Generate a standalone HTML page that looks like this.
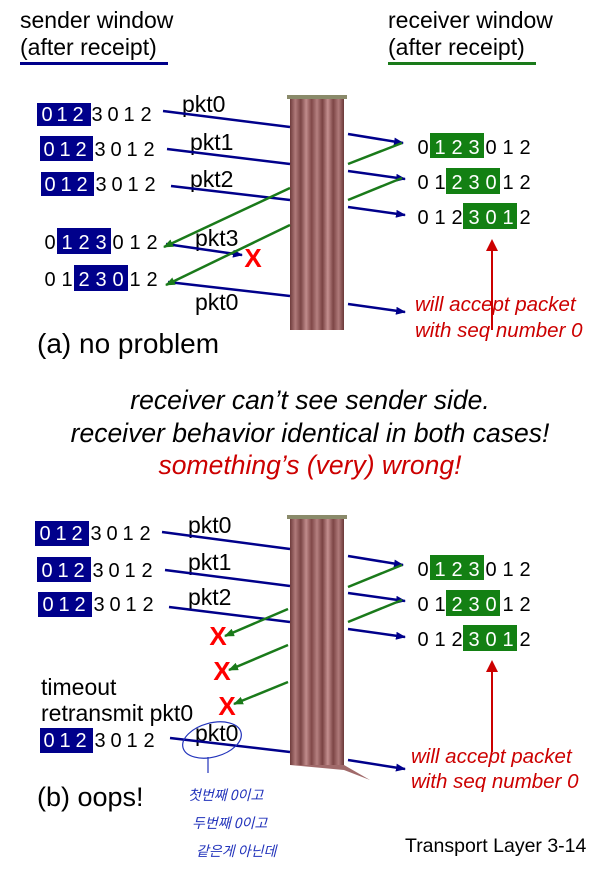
<!DOCTYPE html>
<html><head><meta charset="utf-8"><style>
html,body{margin:0;padding:0;background:#fff;}
svg{display:block;font-family:"Liberation Sans","Noto Sans CJK KR",sans-serif;}
</style></head><body>
<svg width="603" height="874" viewBox="0 0 603 874" xmlns="http://www.w3.org/2000/svg">
<defs>
<marker id="ab" markerWidth="10" markerHeight="8" refX="9" refY="4" orient="auto" markerUnits="userSpaceOnUse"><path d="M0,0 L10,4 L0,8 z" fill="#00008b"/></marker>
<marker id="ag" markerWidth="10" markerHeight="8" refX="9" refY="4" orient="auto" markerUnits="userSpaceOnUse"><path d="M0,0 L10,4 L0,8 z" fill="#1a7a1a"/></marker>
<marker id="ar" markerWidth="12" markerHeight="12" refX="10" refY="6" orient="auto" markerUnits="userSpaceOnUse"><path d="M0,0 L12,6 L0,12 z" fill="#cc0000"/></marker>
<linearGradient id="cur" x1="0" x2="1" y1="0" y2="0">
<stop offset="0" stop-color="#6e3b3b"/><stop offset="0.1" stop-color="#b07b7b"/><stop offset="0.2" stop-color="#7a4545"/><stop offset="0.3" stop-color="#c08b8b"/><stop offset="0.4" stop-color="#804848"/><stop offset="0.5" stop-color="#b58080"/><stop offset="0.6" stop-color="#7a4343"/><stop offset="0.7" stop-color="#c48f8f"/><stop offset="0.8" stop-color="#7d4646"/><stop offset="0.9" stop-color="#b07a7a"/><stop offset="1" stop-color="#6a3838"/>
</linearGradient>
</defs>

<!-- headers -->
<text x="20" y="28" font-size="23">sender window</text>
<text x="20" y="55" font-size="23">(after receipt)</text>
<rect x="20" y="62" width="148" height="3" fill="#00008b"/>
<text x="388" y="28" font-size="23">receiver window</text>
<text x="388" y="55" font-size="23">(after receipt)</text>
<rect x="388" y="62" width="148" height="3" fill="#1a7a1a"/>

<!-- curtains -->
<rect x="290" y="97" width="54" height="233" fill="url(#cur)"/>
<rect x="287" y="95" width="60" height="4" fill="#8a8a6a"/>
<rect x="290" y="517" width="54" height="248" fill="url(#cur)"/>
<path d="M290,765 L344,765 L370,780 L344,770 Z" fill="#a06a6a"/>
<rect x="287" y="515" width="60" height="4" fill="#8a8a6a"/>

<g font-size="20">
<rect x="37" y="103" width="54" height="23" fill="#00008b"/>
<text y="121" text-anchor="middle"><tspan x="47" fill="#fff">0</tspan><tspan x="62" fill="#fff">1</tspan><tspan x="78" fill="#fff">2</tspan><tspan x="97">3</tspan><tspan x="113">0</tspan><tspan x="129">1</tspan><tspan x="146">2</tspan></text>
<rect x="40" y="136" width="53" height="25" fill="#00008b"/>
<text y="156" text-anchor="middle"><tspan x="49" fill="#fff">0</tspan><tspan x="65" fill="#fff">1</tspan><tspan x="81" fill="#fff">2</tspan><tspan x="100">3</tspan><tspan x="116">0</tspan><tspan x="132">1</tspan><tspan x="149">2</tspan></text>
<rect x="41" y="172" width="53" height="24" fill="#00008b"/>
<text y="191" text-anchor="middle"><tspan x="50" fill="#fff">0</tspan><tspan x="66" fill="#fff">1</tspan><tspan x="82" fill="#fff">2</tspan><tspan x="101">3</tspan><tspan x="117">0</tspan><tspan x="133">1</tspan><tspan x="150">2</tspan></text>
<rect x="57" y="228" width="54" height="26" fill="#00008b"/>
<text y="249" text-anchor="middle"><tspan x="50">0</tspan><tspan x="67" fill="#fff">1</tspan><tspan x="84" fill="#fff">2</tspan><tspan x="101" fill="#fff">3</tspan><tspan x="118">0</tspan><tspan x="135">1</tspan><tspan x="152">2</tspan></text>
<rect x="74" y="265" width="54" height="26" fill="#00008b"/>
<text y="286" text-anchor="middle"><tspan x="50">0</tspan><tspan x="67">1</tspan><tspan x="84" fill="#fff">2</tspan><tspan x="101" fill="#fff">3</tspan><tspan x="118" fill="#fff">0</tspan><tspan x="135">1</tspan><tspan x="152">2</tspan></text>

<rect x="430" y="133" width="54" height="25" fill="#138013"/>
<text y="154" text-anchor="middle"><tspan x="423">0</tspan><tspan x="440" fill="#fff">1</tspan><tspan x="457" fill="#fff">2</tspan><tspan x="474" fill="#fff">3</tspan><tspan x="491">0</tspan><tspan x="508">1</tspan><tspan x="525">2</tspan></text>
<rect x="446" y="168" width="54" height="26" fill="#138013"/>
<text y="189" text-anchor="middle"><tspan x="423">0</tspan><tspan x="440">1</tspan><tspan x="457" fill="#fff">2</tspan><tspan x="474" fill="#fff">3</tspan><tspan x="491" fill="#fff">0</tspan><tspan x="508">1</tspan><tspan x="525">2</tspan></text>
<rect x="463" y="203" width="54" height="26" fill="#138013"/>
<text y="224" text-anchor="middle"><tspan x="423">0</tspan><tspan x="440">1</tspan><tspan x="457">2</tspan><tspan x="474" fill="#fff">3</tspan><tspan x="491" fill="#fff">0</tspan><tspan x="508" fill="#fff">1</tspan><tspan x="525">2</tspan></text>

<rect x="35" y="521" width="54" height="25" fill="#00008b"/>
<text y="540" text-anchor="middle"><tspan x="45" fill="#fff">0</tspan><tspan x="61" fill="#fff">1</tspan><tspan x="77" fill="#fff">2</tspan><tspan x="96">3</tspan><tspan x="112">0</tspan><tspan x="128">1</tspan><tspan x="145">2</tspan></text>
<rect x="37" y="557" width="54" height="25" fill="#00008b"/>
<text y="577" text-anchor="middle"><tspan x="47" fill="#fff">0</tspan><tspan x="63" fill="#fff">1</tspan><tspan x="79" fill="#fff">2</tspan><tspan x="98">3</tspan><tspan x="114">0</tspan><tspan x="130">1</tspan><tspan x="147">2</tspan></text>
<rect x="38" y="592" width="54" height="25" fill="#00008b"/>
<text y="611" text-anchor="middle"><tspan x="48" fill="#fff">0</tspan><tspan x="64" fill="#fff">1</tspan><tspan x="80" fill="#fff">2</tspan><tspan x="99">3</tspan><tspan x="115">0</tspan><tspan x="131">1</tspan><tspan x="148">2</tspan></text>
<rect x="40" y="728" width="53" height="25" fill="#00008b"/>
<text y="747" text-anchor="middle"><tspan x="49" fill="#fff">0</tspan><tspan x="65" fill="#fff">1</tspan><tspan x="81" fill="#fff">2</tspan><tspan x="100">3</tspan><tspan x="116">0</tspan><tspan x="132">1</tspan><tspan x="149">2</tspan></text>

<rect x="430" y="555" width="54" height="25" fill="#138013"/>
<text y="576" text-anchor="middle"><tspan x="423">0</tspan><tspan x="440" fill="#fff">1</tspan><tspan x="457" fill="#fff">2</tspan><tspan x="474" fill="#fff">3</tspan><tspan x="491">0</tspan><tspan x="508">1</tspan><tspan x="525">2</tspan></text>
<rect x="446" y="590" width="54" height="26" fill="#138013"/>
<text y="611" text-anchor="middle"><tspan x="423">0</tspan><tspan x="440">1</tspan><tspan x="457" fill="#fff">2</tspan><tspan x="474" fill="#fff">3</tspan><tspan x="491" fill="#fff">0</tspan><tspan x="508">1</tspan><tspan x="525">2</tspan></text>
<rect x="463" y="625" width="54" height="26" fill="#138013"/>
<text y="646" text-anchor="middle"><tspan x="423">0</tspan><tspan x="440">1</tspan><tspan x="457">2</tspan><tspan x="474" fill="#fff">3</tspan><tspan x="491" fill="#fff">0</tspan><tspan x="508" fill="#fff">1</tspan><tspan x="525">2</tspan></text>
</g>

<g font-size="23">
<text x="182" y="112">pkt0</text>
<text x="190" y="150">pkt1</text>
<text x="190" y="187">pkt2</text>
<text x="195" y="246">pkt3</text>
<text x="195" y="310">pkt0</text>
<text x="188" y="533">pkt0</text>
<text x="188" y="570">pkt1</text>
<text x="188" y="605">pkt2</text>
<text x="195" y="741">pkt0</text>
<text x="41" y="695">timeout</text>
<text x="41" y="721">retransmit pkt0</text>
</g>

<g stroke="#00008b" stroke-width="2.5" fill="none">
<line x1="163" y1="111" x2="290" y2="127"/>
<line x1="167" y1="149" x2="290" y2="164"/>
<line x1="171" y1="186" x2="290" y2="200"/>
<line x1="168" y1="282" x2="290" y2="296"/>
<line x1="166" y1="244" x2="242" y2="255" marker-end="url(#ab)"/>
<line x1="348" y1="134" x2="403" y2="143" marker-end="url(#ab)"/>
<line x1="348" y1="171" x2="405" y2="179" marker-end="url(#ab)"/>
<line x1="348" y1="207" x2="405" y2="215" marker-end="url(#ab)"/>
<line x1="348" y1="304" x2="405" y2="312" marker-end="url(#ab)"/>
<line x1="162" y1="532" x2="290" y2="549"/>
<line x1="165" y1="570" x2="290" y2="586"/>
<line x1="169" y1="607" x2="290" y2="622"/>
<line x1="170" y1="738" x2="290" y2="752"/>
<line x1="348" y1="556" x2="403" y2="565" marker-end="url(#ab)"/>
<line x1="348" y1="593" x2="405" y2="601" marker-end="url(#ab)"/>
<line x1="348" y1="629" x2="405" y2="637" marker-end="url(#ab)"/>
<line x1="348" y1="760" x2="405" y2="769" marker-end="url(#ab)"/>
</g>
<g stroke="#1a7a1a" stroke-width="2.5" fill="none">
<line x1="290" y1="188" x2="164" y2="247" marker-end="url(#ag)"/>
<line x1="290" y1="225" x2="166" y2="285" marker-end="url(#ag)"/>
<line x1="348" y1="164" x2="402" y2="143"/>
<line x1="348" y1="200" x2="402" y2="178"/>
<line x1="288" y1="609" x2="225" y2="636" marker-end="url(#ag)"/>
<line x1="288" y1="645" x2="229" y2="670" marker-end="url(#ag)"/>
<line x1="288" y1="682" x2="234" y2="704" marker-end="url(#ag)"/>
<line x1="348" y1="587" x2="402" y2="565"/>
<line x1="348" y1="622" x2="402" y2="600"/>
</g>
<g fill="#ff0000" font-size="26" font-weight="bold" text-anchor="middle">
<text x="253" y="267">X</text>
<text x="218" y="645">X</text>
<text x="222" y="680">X</text>
<text x="227" y="715">X</text>
</g>
<line x1="492" y1="330" x2="492" y2="241" stroke="#cc0000" stroke-width="2" marker-end="url(#ar)"/>
<line x1="492" y1="752" x2="492" y2="662" stroke="#cc0000" stroke-width="2" marker-end="url(#ar)"/>
<g fill="#cc0000" font-size="20.5" font-style="italic">
<text x="415" y="311">will accept packet</text>
<text x="415" y="337">with seq number 0</text>
<text x="411" y="763">will accept packet</text>
<text x="411" y="788">with seq number 0</text>
</g>

<text x="37" y="353" font-size="28">(a) no problem</text>
<text x="37" y="806" font-size="27">(b) oops!</text>

<g font-size="26.5" font-style="italic" text-anchor="middle">
<text x="310" y="409">receiver can’t see sender side.</text>
<text x="310" y="442">receiver behavior identical in both cases!</text>
<text x="310" y="474" fill="#cc0000">something’s (very) wrong!</text>
</g>

<text x="405" y="852" font-size="19.5">Transport Layer 3-14</text>

<ellipse cx="212" cy="740" rx="30" ry="17" transform="rotate(-15 212 740)" fill="none" stroke="#2233bb" stroke-width="1.2"/>
<line x1="208" y1="757" x2="208" y2="773" stroke="#2233bb" stroke-width="1.2"/>
<g fill="#2233bb" font-size="14" font-family="'Noto Sans CJK KR',sans-serif" font-style="italic">
<text x="188" y="800">첫번째 0이고</text>
<text x="192" y="828">두번째 0이고</text>
<text x="196" y="856">같은게 아닌데</text>
</g>
</svg>
</body></html>
